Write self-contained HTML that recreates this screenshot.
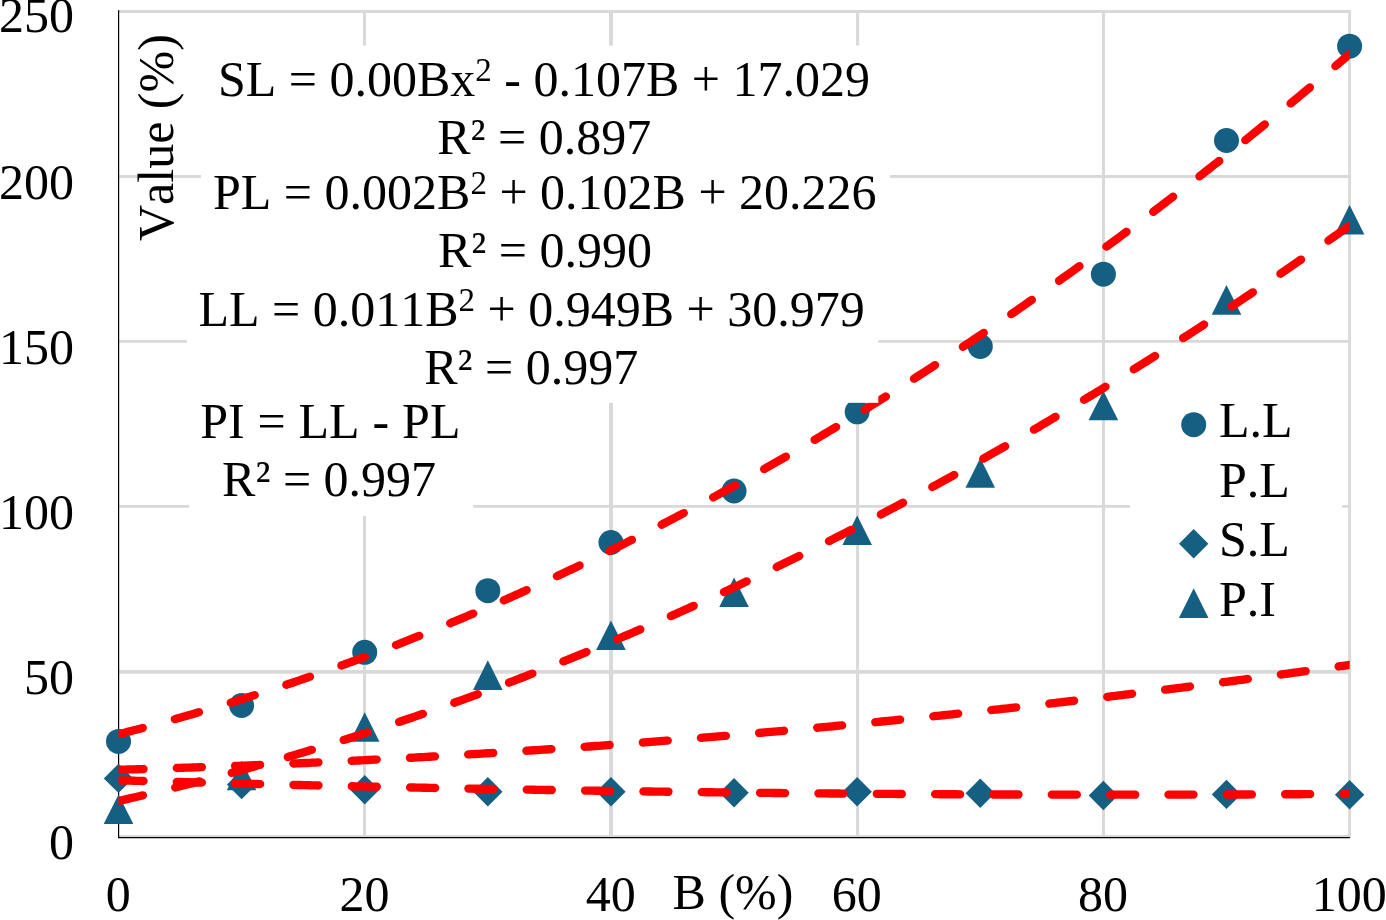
<!DOCTYPE html>
<html lang="en"><head><meta charset="utf-8"><title>Atterberg limits vs B (%)</title>
<style>
html,body{margin:0;padding:0;background:#fff;}
body{width:1386px;height:920px;overflow:hidden;}
svg{display:block;}
text{font-family:"Liberation Serif",serif;font-size:50px;fill:#000;font-kerning:none;}
</style></head><body>
<svg width="1386" height="920" viewBox="0 0 1386 920">
<rect x="0" y="0" width="1386" height="920" fill="#fff"/>
<defs>
<clipPath id="plot"><rect x="118.5" y="0" width="1231.20" height="920"/></clipPath>
</defs>
<g stroke="#d9d9d9" fill="none">
<line x1="118.5" y1="11.55" x2="1350.9" y2="11.55" stroke-width="2.9"/>
<line x1="118.5" y1="176.5" x2="1350.9" y2="176.5" stroke-width="2.96"/>
<line x1="118.5" y1="341.4" x2="1350.9" y2="341.4" stroke-width="2.83"/>
<line x1="118.5" y1="506.4" x2="1350.9" y2="506.4" stroke-width="2.83"/>
<line x1="118.5" y1="671.9" x2="1350.9" y2="671.9" stroke-width="3.83"/>
<line x1="118.5" y1="836.5" x2="1350.9" y2="836.5" stroke-width="2.8"/>
<line x1="364.52" y1="10.1" x2="364.52" y2="837.0" stroke-width="2.96"/>
<line x1="611.0" y1="10.1" x2="611.0" y2="837.0" stroke-width="3.96"/>
<line x1="857.57" y1="10.1" x2="857.57" y2="837.0" stroke-width="2.96"/>
<line x1="1103.5" y1="10.1" x2="1103.5" y2="837.0" stroke-width="3.04"/>
<line x1="1349.6" y1="11.9" x2="1349.6" y2="837.0" stroke-width="2.83"/>
</g>
<g stroke="#000" stroke-width="1.2" fill="none">
<line x1="118.6" y1="10.3" x2="118.6" y2="838.1"/>
<line x1="118.0" y1="837.55" x2="1349.9" y2="837.55"/>
</g>
<g fill="#156082" stroke="none">
<circle cx="118.50" cy="741.46" r="12.5"/>
<circle cx="241.61" cy="705.49" r="12.5"/>
<circle cx="364.72" cy="652.36" r="12.5"/>
<circle cx="487.83" cy="590.65" r="12.5"/>
<circle cx="610.94" cy="542.47" r="12.5"/>
<circle cx="734.05" cy="490.99" r="12.5"/>
<circle cx="857.16" cy="411.79" r="12.5"/>
<circle cx="980.27" cy="346.45" r="12.5"/>
<circle cx="1103.38" cy="274.18" r="12.5"/>
<circle cx="1226.49" cy="140.53" r="12.5"/>
<circle cx="1349.60" cy="46.15" r="12.5"/>
<path d="M103.80 778.40L118.50 763.70L133.20 778.40L118.50 793.10Z"/>
<path d="M226.91 784.60L241.61 769.90L256.31 784.60L241.61 799.30Z"/>
<path d="M350.02 789.70L364.72 775.00L379.42 789.70L364.72 804.40Z"/>
<path d="M473.13 791.70L487.83 777.00L502.53 791.70L487.83 806.40Z"/>
<path d="M596.24 791.70L610.94 777.00L625.64 791.70L610.94 806.40Z"/>
<path d="M719.35 792.70L734.05 778.00L748.75 792.70L734.05 807.40Z"/>
<path d="M842.46 791.70L857.16 777.00L871.86 791.70L857.16 806.40Z"/>
<path d="M965.57 793.30L980.27 778.60L994.97 793.30L980.27 808.00Z"/>
<path d="M1088.68 795.50L1103.38 780.80L1118.08 795.50L1103.38 810.20Z"/>
<path d="M1211.79 794.40L1226.49 779.70L1241.19 794.40L1226.49 809.10Z"/>
<path d="M1334.90 794.70L1349.60 780.00L1364.30 794.70L1349.60 809.40Z"/>
<path d="M103.70 824.07L118.50 794.48L133.30 824.07Z"/>
<path d="M226.81 790.25L241.61 760.65L256.41 790.25Z"/>
<path d="M349.92 741.74L364.72 712.14L379.52 741.74Z"/>
<path d="M473.03 689.93L487.83 660.33L502.63 689.93Z"/>
<path d="M596.14 650.00L610.94 620.40L625.74 650.00Z"/>
<path d="M719.25 607.10L734.05 577.50L748.85 607.10Z"/>
<path d="M842.36 545.06L857.16 515.46L871.96 545.06Z"/>
<path d="M965.47 487.64L980.27 458.04L995.07 487.64Z"/>
<path d="M1088.58 420.32L1103.38 390.72L1118.18 420.32Z"/>
<path d="M1211.69 314.72L1226.49 285.12L1241.29 314.72Z"/>
<path d="M1334.80 234.53L1349.60 204.93L1364.40 234.53Z"/>
</g>
<g clip-path="url(#plot)"><g fill="none" stroke="#ff0000" stroke-width="8.35" stroke-linecap="round" stroke-linejoin="round" stroke-dasharray="25.02 33.32">
<polyline points="118.50,734.27 121.58,733.48 124.66,732.69 127.73,731.90 130.81,731.10 133.89,730.30 136.97,729.49 140.04,728.68 143.12,727.86 146.20,727.04 149.28,726.21 152.36,725.38 155.43,724.54 158.51,723.70 161.59,722.86 164.67,722.01 167.74,721.16 170.82,720.30 173.90,719.43 176.98,718.57 180.06,717.69 183.13,716.82 186.21,715.93 189.29,715.05 192.37,714.16 195.44,713.26 198.52,712.36 201.60,711.46 204.68,710.55 207.75,709.64 210.83,708.72 213.91,707.79 216.99,706.87 220.07,705.93 223.14,705.00 226.22,704.06 229.30,703.11 232.38,702.16 235.45,701.21 238.53,700.25 241.61,699.28 244.69,698.31 247.77,697.34 250.84,696.36 253.92,695.38 257.00,694.39 260.08,693.40 263.15,692.40 266.23,691.40 269.31,690.40 272.39,689.39 275.47,688.37 278.54,687.35 281.62,686.33 284.70,685.30 287.78,684.27 290.85,683.23 293.93,682.19 297.01,681.14 300.09,680.09 303.16,679.04 306.24,677.98 309.32,676.91 312.40,675.84 315.48,674.77 318.55,673.69 321.63,672.60 324.71,671.52 327.79,670.42 330.86,669.33 333.94,668.22 337.02,667.12 340.10,666.01 343.18,664.89 346.25,663.77 349.33,662.65 352.41,661.52 355.49,660.38 358.56,659.24 361.64,658.10 364.72,656.95 367.80,655.80 370.88,654.65 373.95,653.48 377.03,652.32 380.11,651.15 383.19,649.97 386.26,648.79 389.34,647.61 392.42,646.42 395.50,645.23 398.58,644.03 401.65,642.82 404.73,641.62 407.81,640.41 410.89,639.19 413.96,637.97 417.04,636.74 420.12,635.51 423.20,634.28 426.27,633.04 429.35,631.79 432.43,630.55 435.51,629.29 438.59,628.03 441.66,626.77 444.74,625.50 447.82,624.23 450.90,622.96 453.97,621.68 457.05,620.39 460.13,619.10 463.21,617.81 466.29,616.51 469.36,615.20 472.44,613.90 475.52,612.58 478.60,611.27 481.67,609.94 484.75,608.62 487.83,607.29 490.91,605.95 493.99,604.61 497.06,603.26 500.14,601.92 503.22,600.56 506.30,599.20 509.37,597.84 512.45,596.47 515.53,595.10 518.61,593.72 521.69,592.34 524.76,590.95 527.84,589.56 530.92,588.17 534.00,586.77 537.07,585.36 540.15,583.95 543.23,582.54 546.31,581.12 549.38,579.70 552.46,578.27 555.54,576.84 558.62,575.40 561.70,573.96 564.77,572.52 567.85,571.07 570.93,569.61 574.01,568.15 577.08,566.69 580.16,565.22 583.24,563.74 586.32,562.27 589.40,560.78 592.47,559.30 595.55,557.80 598.63,556.31 601.71,554.81 604.78,553.30 607.86,551.79 610.94,550.28 614.02,548.76 617.10,547.23 620.17,545.71 623.25,544.17 626.33,542.63 629.41,541.09 632.48,539.55 635.56,537.99 638.64,536.44 641.72,534.88 644.80,533.31 647.87,531.74 650.95,530.17 654.03,528.59 657.11,527.01 660.18,525.42 663.26,523.83 666.34,522.23 669.42,520.63 672.50,519.02 675.57,517.41 678.65,515.79 681.73,514.17 684.81,512.55 687.88,510.92 690.96,509.29 694.04,507.65 697.12,506.00 700.19,504.36 703.27,502.70 706.35,501.05 709.43,499.38 712.51,497.72 715.58,496.05 718.66,494.37 721.74,492.69 724.82,491.01 727.89,489.32 730.97,487.63 734.05,485.93 737.13,484.23 740.21,482.52 743.28,480.81 746.36,479.09 749.44,477.37 752.52,475.64 755.59,473.91 758.67,472.18 761.75,470.44 764.83,468.69 767.91,466.94 770.98,465.19 774.06,463.43 777.14,461.67 780.22,459.90 783.29,458.13 786.37,456.36 789.45,454.58 792.53,452.79 795.61,451.00 798.68,449.21 801.76,447.41 804.84,445.60 807.92,443.79 810.99,441.98 814.07,440.16 817.15,438.34 820.23,436.52 823.30,434.68 826.38,432.85 829.46,431.01 832.54,429.16 835.62,427.31 838.69,425.46 841.77,423.60 844.85,421.74 847.93,419.87 851.00,418.00 854.08,416.12 857.16,414.24 860.24,412.35 863.32,410.46 866.39,408.57 869.47,406.67 872.55,404.76 875.63,402.85 878.70,400.94 881.78,399.02 884.86,397.10 887.94,395.17 891.02,393.24 894.09,391.30 897.17,389.36 900.25,387.41 903.33,385.46 906.40,383.51 909.48,381.55 912.56,379.58 915.64,377.61 918.72,375.64 921.79,373.66 924.87,371.68 927.95,369.69 931.03,367.70 934.10,365.70 937.18,363.70 940.26,361.70 943.34,359.69 946.41,357.67 949.49,355.65 952.57,353.63 955.65,351.60 958.73,349.57 961.80,347.53 964.88,345.49 967.96,343.44 971.04,341.39 974.11,339.33 977.19,337.27 980.27,335.21 983.35,333.14 986.43,331.06 989.50,328.98 992.58,326.90 995.66,324.81 998.74,322.72 1001.81,320.62 1004.89,318.52 1007.97,316.41 1011.05,314.30 1014.13,312.19 1017.20,310.07 1020.28,307.94 1023.36,305.81 1026.44,303.68 1029.51,301.54 1032.59,299.40 1035.67,297.25 1038.75,295.10 1041.83,292.94 1044.90,290.78 1047.98,288.61 1051.06,286.44 1054.14,284.27 1057.21,282.09 1060.29,279.90 1063.37,277.71 1066.45,275.52 1069.52,273.32 1072.60,271.12 1075.68,268.91 1078.76,266.70 1081.84,264.48 1084.91,262.26 1087.99,260.03 1091.07,257.80 1094.15,255.57 1097.22,253.33 1100.30,251.09 1103.38,248.84 1106.46,246.58 1109.54,244.33 1112.61,242.06 1115.69,239.80 1118.77,237.52 1121.85,235.25 1124.92,232.97 1128.00,230.68 1131.08,228.39 1134.16,226.10 1137.24,223.80 1140.31,221.49 1143.39,219.19 1146.47,216.87 1149.55,214.56 1152.62,212.23 1155.70,209.91 1158.78,207.57 1161.86,205.24 1164.93,202.90 1168.01,200.55 1171.09,198.20 1174.17,195.85 1177.25,193.49 1180.32,191.13 1183.40,188.76 1186.48,186.39 1189.56,184.01 1192.63,181.63 1195.71,179.24 1198.79,176.85 1201.87,174.45 1204.95,172.05 1208.02,169.65 1211.10,167.24 1214.18,164.83 1217.26,162.41 1220.33,159.99 1223.41,157.56 1226.49,155.13 1229.57,152.69 1232.65,150.25 1235.72,147.80 1238.80,145.35 1241.88,142.90 1244.96,140.44 1248.03,137.97 1251.11,135.50 1254.19,133.03 1257.27,130.55 1260.35,128.07 1263.42,125.58 1266.50,123.09 1269.58,120.59 1272.66,118.09 1275.73,115.59 1278.81,113.08 1281.89,110.56 1284.97,108.04 1288.05,105.52 1291.12,102.99 1294.20,100.46 1297.28,97.92 1300.36,95.37 1303.43,92.83 1306.51,90.28 1309.59,87.72 1312.67,85.16 1315.74,82.59 1318.82,80.02 1321.90,77.45 1324.98,74.87 1328.06,72.29 1331.13,69.70 1334.21,67.11 1337.29,64.51 1340.37,61.91 1343.44,59.30 1346.52,56.69 1349.60,54.07"/>
<polyline points="118.50,801.02 121.58,800.31 124.66,799.61 127.73,798.90 130.81,798.19 133.89,797.47 136.97,796.76 140.04,796.03 143.12,795.31 146.20,794.58 149.28,793.84 152.36,793.10 155.43,792.36 158.51,791.62 161.59,790.87 164.67,790.12 167.74,789.36 170.82,788.60 173.90,787.84 176.98,787.07 180.06,786.30 183.13,785.53 186.21,784.75 189.29,783.97 192.37,783.18 195.44,782.39 198.52,781.60 201.60,780.80 204.68,780.00 207.75,779.20 210.83,778.39 213.91,777.58 216.99,776.76 220.07,775.94 223.14,775.12 226.22,774.29 229.30,773.46 232.38,772.63 235.45,771.79 238.53,770.95 241.61,770.11 244.69,769.26 247.77,768.40 250.84,767.55 253.92,766.69 257.00,765.83 260.08,764.96 263.15,764.09 266.23,763.21 269.31,762.34 272.39,761.45 275.47,760.57 278.54,759.68 281.62,758.79 284.70,757.89 287.78,756.99 290.85,756.09 293.93,755.18 297.01,754.27 300.09,753.35 303.16,752.43 306.24,751.51 309.32,750.58 312.40,749.65 315.48,748.72 318.55,747.78 321.63,746.84 324.71,745.90 327.79,744.95 330.86,744.00 333.94,743.04 337.02,742.08 340.10,741.12 343.18,740.15 346.25,739.18 349.33,738.21 352.41,737.23 355.49,736.25 358.56,735.26 361.64,734.27 364.72,733.28 367.80,732.28 370.88,731.28 373.95,730.28 377.03,729.27 380.11,728.26 383.19,727.25 386.26,726.23 389.34,725.20 392.42,724.18 395.50,723.15 398.58,722.11 401.65,721.08 404.73,720.04 407.81,718.99 410.89,717.94 413.96,716.89 417.04,715.84 420.12,714.78 423.20,713.71 426.27,712.65 429.35,711.58 432.43,710.50 435.51,709.42 438.59,708.34 441.66,707.26 444.74,706.17 447.82,705.08 450.90,703.98 453.97,702.88 457.05,701.78 460.13,700.67 463.21,699.56 466.29,698.44 469.36,697.32 472.44,696.20 475.52,695.08 478.60,693.95 481.67,692.81 484.75,691.68 487.83,690.54 490.91,689.39 493.99,688.24 497.06,687.09 500.14,685.94 503.22,684.78 506.30,683.61 509.37,682.45 512.45,681.28 515.53,680.10 518.61,678.93 521.69,677.74 524.76,676.56 527.84,675.37 530.92,674.18 534.00,672.98 537.07,671.78 540.15,670.58 543.23,669.37 546.31,668.16 549.38,666.95 552.46,665.73 555.54,664.51 558.62,663.28 561.70,662.05 564.77,660.82 567.85,659.58 570.93,658.34 574.01,657.10 577.08,655.85 580.16,654.60 583.24,653.34 586.32,652.08 589.40,650.82 592.47,649.55 595.55,648.28 598.63,647.01 601.71,645.73 604.78,644.45 607.86,643.16 610.94,641.88 614.02,640.58 617.10,639.29 620.17,637.99 623.25,636.68 626.33,635.38 629.41,634.07 632.48,632.75 635.56,631.43 638.64,630.11 641.72,628.79 644.80,627.46 647.87,626.12 650.95,624.79 654.03,623.45 657.11,622.10 660.18,620.76 663.26,619.40 666.34,618.05 669.42,616.69 672.50,615.33 675.57,613.96 678.65,612.59 681.73,611.22 684.81,609.84 687.88,608.46 690.96,607.07 694.04,605.69 697.12,604.29 700.19,602.90 703.27,601.50 706.35,600.09 709.43,598.69 712.51,597.28 715.58,595.86 718.66,594.44 721.74,593.02 724.82,591.60 727.89,590.17 730.97,588.74 734.05,587.30 737.13,585.86 740.21,584.41 743.28,582.97 746.36,581.52 749.44,580.06 752.52,578.60 755.59,577.14 758.67,575.67 761.75,574.20 764.83,572.73 767.91,571.25 770.98,569.77 774.06,568.29 777.14,566.80 780.22,565.31 783.29,563.81 786.37,562.31 789.45,560.81 792.53,559.30 795.61,557.79 798.68,556.28 801.76,554.76 804.84,553.24 807.92,551.71 810.99,550.18 814.07,548.65 817.15,547.11 820.23,545.57 823.30,544.03 826.38,542.48 829.46,540.93 832.54,539.38 835.62,537.82 838.69,536.26 841.77,534.69 844.85,533.12 847.93,531.55 851.00,529.97 854.08,528.39 857.16,526.80 860.24,525.22 863.32,523.62 866.39,522.03 869.47,520.43 872.55,518.83 875.63,517.22 878.70,515.61 881.78,514.00 884.86,512.38 887.94,510.76 891.02,509.13 894.09,507.50 897.17,505.87 900.25,504.23 903.33,502.59 906.40,500.95 909.48,499.30 912.56,497.65 915.64,496.00 918.72,494.34 921.79,492.68 924.87,491.01 927.95,489.34 931.03,487.67 934.10,485.99 937.18,484.31 940.26,482.63 943.34,480.94 946.41,479.25 949.49,477.55 952.57,475.85 955.65,474.15 958.73,472.44 961.80,470.73 964.88,469.02 967.96,467.30 971.04,465.58 974.11,463.86 977.19,462.13 980.27,460.39 983.35,458.66 986.43,456.92 989.50,455.17 992.58,453.43 995.66,451.68 998.74,449.92 1001.81,448.16 1004.89,446.40 1007.97,444.64 1011.05,442.87 1014.13,441.09 1017.20,439.32 1020.28,437.54 1023.36,435.75 1026.44,433.96 1029.51,432.17 1032.59,430.38 1035.67,428.58 1038.75,426.78 1041.83,424.97 1044.90,423.16 1047.98,421.35 1051.06,419.53 1054.14,417.71 1057.21,415.88 1060.29,414.05 1063.37,412.22 1066.45,410.39 1069.52,408.55 1072.60,406.70 1075.68,404.86 1078.76,403.01 1081.84,401.15 1084.91,399.29 1087.99,397.43 1091.07,395.57 1094.15,393.70 1097.22,391.82 1100.30,389.95 1103.38,388.07 1106.46,386.18 1109.54,384.29 1112.61,382.40 1115.69,380.51 1118.77,378.61 1121.85,376.71 1124.92,374.80 1128.00,372.89 1131.08,370.98 1134.16,369.06 1137.24,367.14 1140.31,365.21 1143.39,363.29 1146.47,361.35 1149.55,359.42 1152.62,357.48 1155.70,355.54 1158.78,353.59 1161.86,351.64 1164.93,349.68 1168.01,347.73 1171.09,345.76 1174.17,343.80 1177.25,341.83 1180.32,339.86 1183.40,337.88 1186.48,335.90 1189.56,333.92 1192.63,331.93 1195.71,329.94 1198.79,327.94 1201.87,325.94 1204.95,323.94 1208.02,321.94 1211.10,319.93 1214.18,317.91 1217.26,315.90 1220.33,313.87 1223.41,311.85 1226.49,309.82 1229.57,307.79 1232.65,305.75 1235.72,303.71 1238.80,301.67 1241.88,299.63 1244.96,297.57 1248.03,295.52 1251.11,293.46 1254.19,291.40 1257.27,289.34 1260.35,287.27 1263.42,285.19 1266.50,283.12 1269.58,281.04 1272.66,278.95 1275.73,276.87 1278.81,274.78 1281.89,272.68 1284.97,270.58 1288.05,268.48 1291.12,266.37 1294.20,264.27 1297.28,262.15 1300.36,260.03 1303.43,257.91 1306.51,255.79 1309.59,253.66 1312.67,251.53 1315.74,249.39 1318.82,247.26 1321.90,245.11 1324.98,242.97 1328.06,240.82 1331.13,238.66 1334.21,236.50 1337.29,234.34 1340.37,232.18 1343.44,230.01 1346.52,227.84 1349.60,225.66"/>
<polyline points="118.50,769.75 121.58,769.67 124.66,769.58 127.73,769.50 130.81,769.41 133.89,769.32 136.97,769.23 140.04,769.14 143.12,769.05 146.20,768.96 149.28,768.87 152.36,768.77 155.43,768.68 158.51,768.59 161.59,768.49 164.67,768.39 167.74,768.29 170.82,768.20 173.90,768.10 176.98,767.99 180.06,767.89 183.13,767.79 186.21,767.69 189.29,767.58 192.37,767.48 195.44,767.37 198.52,767.27 201.60,767.16 204.68,767.05 207.75,766.94 210.83,766.83 213.91,766.72 216.99,766.61 220.07,766.49 223.14,766.38 226.22,766.26 229.30,766.15 232.38,766.03 235.45,765.91 238.53,765.80 241.61,765.68 244.69,765.56 247.77,765.44 250.84,765.31 253.92,765.19 257.00,765.07 260.08,764.94 263.15,764.82 266.23,764.69 269.31,764.56 272.39,764.43 275.47,764.31 278.54,764.18 281.62,764.04 284.70,763.91 287.78,763.78 290.85,763.65 293.93,763.51 297.01,763.38 300.09,763.24 303.16,763.10 306.24,762.97 309.32,762.83 312.40,762.69 315.48,762.55 318.55,762.40 321.63,762.26 324.71,762.12 327.79,761.97 330.86,761.83 333.94,761.68 337.02,761.54 340.10,761.39 343.18,761.24 346.25,761.09 349.33,760.94 352.41,760.79 355.49,760.64 358.56,760.48 361.64,760.33 364.72,760.17 367.80,760.02 370.88,759.86 373.95,759.70 377.03,759.55 380.11,759.39 383.19,759.23 386.26,759.07 389.34,758.90 392.42,758.74 395.50,758.58 398.58,758.41 401.65,758.25 404.73,758.08 407.81,757.91 410.89,757.74 413.96,757.58 417.04,757.41 420.12,757.23 423.20,757.06 426.27,756.89 429.35,756.72 432.43,756.54 435.51,756.37 438.59,756.19 441.66,756.01 444.74,755.84 447.82,755.66 450.90,755.48 453.97,755.30 457.05,755.11 460.13,754.93 463.21,754.75 466.29,754.56 469.36,754.38 472.44,754.19 475.52,754.01 478.60,753.82 481.67,753.63 484.75,753.44 487.83,753.25 490.91,753.06 493.99,752.87 497.06,752.67 500.14,752.48 503.22,752.28 506.30,752.09 509.37,751.89 512.45,751.69 515.53,751.50 518.61,751.30 521.69,751.10 524.76,750.89 527.84,750.69 530.92,750.49 534.00,750.29 537.07,750.08 540.15,749.88 543.23,749.67 546.31,749.46 549.38,749.25 552.46,749.04 555.54,748.83 558.62,748.62 561.70,748.41 564.77,748.20 567.85,747.99 570.93,747.77 574.01,747.56 577.08,747.34 580.16,747.12 583.24,746.90 586.32,746.68 589.40,746.47 592.47,746.24 595.55,746.02 598.63,745.80 601.71,745.58 604.78,745.35 607.86,745.13 610.94,744.90 614.02,744.67 617.10,744.45 620.17,744.22 623.25,743.99 626.33,743.76 629.41,743.53 632.48,743.29 635.56,743.06 638.64,742.83 641.72,742.59 644.80,742.36 647.87,742.12 650.95,741.88 654.03,741.64 657.11,741.40 660.18,741.16 663.26,740.92 666.34,740.68 669.42,740.44 672.50,740.19 675.57,739.95 678.65,739.70 681.73,739.46 684.81,739.21 687.88,738.96 690.96,738.71 694.04,738.46 697.12,738.21 700.19,737.96 703.27,737.71 706.35,737.45 709.43,737.20 712.51,736.94 715.58,736.69 718.66,736.43 721.74,736.17 724.82,735.91 727.89,735.65 730.97,735.39 734.05,735.13 737.13,734.87 740.21,734.60 743.28,734.34 746.36,734.07 749.44,733.81 752.52,733.54 755.59,733.27 758.67,733.00 761.75,732.73 764.83,732.46 767.91,732.19 770.98,731.92 774.06,731.65 777.14,731.37 780.22,731.10 783.29,730.82 786.37,730.54 789.45,730.27 792.53,729.99 795.61,729.71 798.68,729.43 801.76,729.15 804.84,728.87 807.92,728.58 810.99,728.30 814.07,728.01 817.15,727.73 820.23,727.44 823.30,727.15 826.38,726.87 829.46,726.58 832.54,726.29 835.62,726.00 838.69,725.70 841.77,725.41 844.85,725.12 847.93,724.82 851.00,724.53 854.08,724.23 857.16,723.93 860.24,723.63 863.32,723.34 866.39,723.04 869.47,722.74 872.55,722.43 875.63,722.13 878.70,721.83 881.78,721.52 884.86,721.22 887.94,720.91 891.02,720.60 894.09,720.30 897.17,719.99 900.25,719.68 903.33,719.37 906.40,719.06 909.48,718.74 912.56,718.43 915.64,718.12 918.72,717.80 921.79,717.49 924.87,717.17 927.95,716.85 931.03,716.53 934.10,716.21 937.18,715.89 940.26,715.57 943.34,715.25 946.41,714.93 949.49,714.60 952.57,714.28 955.65,713.95 958.73,713.62 961.80,713.30 964.88,712.97 967.96,712.64 971.04,712.31 974.11,711.98 977.19,711.65 980.27,711.31 983.35,710.98 986.43,710.65 989.50,710.31 992.58,709.97 995.66,709.64 998.74,709.30 1001.81,708.96 1004.89,708.62 1007.97,708.28 1011.05,707.94 1014.13,707.59 1017.20,707.25 1020.28,706.91 1023.36,706.56 1026.44,706.21 1029.51,705.87 1032.59,705.52 1035.67,705.17 1038.75,704.82 1041.83,704.47 1044.90,704.12 1047.98,703.77 1051.06,703.41 1054.14,703.06 1057.21,702.70 1060.29,702.35 1063.37,701.99 1066.45,701.63 1069.52,701.27 1072.60,700.91 1075.68,700.55 1078.76,700.19 1081.84,699.83 1084.91,699.47 1087.99,699.10 1091.07,698.74 1094.15,698.37 1097.22,698.01 1100.30,697.64 1103.38,697.27 1106.46,696.90 1109.54,696.53 1112.61,696.16 1115.69,695.79 1118.77,695.41 1121.85,695.04 1124.92,694.67 1128.00,694.29 1131.08,693.91 1134.16,693.54 1137.24,693.16 1140.31,692.78 1143.39,692.40 1146.47,692.02 1149.55,691.64 1152.62,691.25 1155.70,690.87 1158.78,690.49 1161.86,690.10 1164.93,689.71 1168.01,689.33 1171.09,688.94 1174.17,688.55 1177.25,688.16 1180.32,687.77 1183.40,687.38 1186.48,686.99 1189.56,686.59 1192.63,686.20 1195.71,685.80 1198.79,685.41 1201.87,685.01 1204.95,684.61 1208.02,684.21 1211.10,683.81 1214.18,683.41 1217.26,683.01 1220.33,682.61 1223.41,682.21 1226.49,681.80 1229.57,681.40 1232.65,680.99 1235.72,680.59 1238.80,680.18 1241.88,679.77 1244.96,679.36 1248.03,678.95 1251.11,678.54 1254.19,678.13 1257.27,677.71 1260.35,677.30 1263.42,676.89 1266.50,676.47 1269.58,676.05 1272.66,675.64 1275.73,675.22 1278.81,674.80 1281.89,674.38 1284.97,673.96 1288.05,673.54 1291.12,673.11 1294.20,672.69 1297.28,672.27 1300.36,671.84 1303.43,671.41 1306.51,670.99 1309.59,670.56 1312.67,670.13 1315.74,669.70 1318.82,669.27 1321.90,668.84 1324.98,668.41 1328.06,667.97 1331.13,667.54 1334.21,667.10 1337.29,666.67 1340.37,666.23 1343.44,665.79 1346.52,665.35 1349.60,664.91"/>
<polyline points="118.50,780.30 121.58,780.39 124.66,780.48 127.73,780.57 130.81,780.66 133.89,780.74 136.97,780.83 140.04,780.92 143.12,781.00 146.20,781.09 149.28,781.17 152.36,781.26 155.43,781.34 158.51,781.43 161.59,781.51 164.67,781.60 167.74,781.68 170.82,781.77 173.90,781.85 176.98,781.93 180.06,782.02 183.13,782.10 186.21,782.18 189.29,782.26 192.37,782.34 195.44,782.43 198.52,782.51 201.60,782.59 204.68,782.67 207.75,782.75 210.83,782.83 213.91,782.91 216.99,782.99 220.07,783.07 223.14,783.15 226.22,783.23 229.30,783.31 232.38,783.38 235.45,783.46 238.53,783.54 241.61,783.62 244.69,783.70 247.77,783.77 250.84,783.85 253.92,783.93 257.00,784.00 260.08,784.08 263.15,784.15 266.23,784.23 269.31,784.30 272.39,784.38 275.47,784.45 278.54,784.53 281.62,784.60 284.70,784.68 287.78,784.75 290.85,784.82 293.93,784.90 297.01,784.97 300.09,785.04 303.16,785.11 306.24,785.18 309.32,785.26 312.40,785.33 315.48,785.40 318.55,785.47 321.63,785.54 324.71,785.61 327.79,785.68 330.86,785.75 333.94,785.82 337.02,785.89 340.10,785.96 343.18,786.03 346.25,786.09 349.33,786.16 352.41,786.23 355.49,786.30 358.56,786.37 361.64,786.43 364.72,786.50 367.80,786.57 370.88,786.63 373.95,786.70 377.03,786.76 380.11,786.83 383.19,786.89 386.26,786.96 389.34,787.02 392.42,787.09 395.50,787.15 398.58,787.22 401.65,787.28 404.73,787.34 407.81,787.40 410.89,787.47 413.96,787.53 417.04,787.59 420.12,787.65 423.20,787.72 426.27,787.78 429.35,787.84 432.43,787.90 435.51,787.96 438.59,788.02 441.66,788.08 444.74,788.14 447.82,788.20 450.90,788.26 453.97,788.32 457.05,788.37 460.13,788.43 463.21,788.49 466.29,788.55 469.36,788.61 472.44,788.66 475.52,788.72 478.60,788.78 481.67,788.83 484.75,788.89 487.83,788.95 490.91,789.00 493.99,789.06 497.06,789.11 500.14,789.17 503.22,789.22 506.30,789.28 509.37,789.33 512.45,789.38 515.53,789.44 518.61,789.49 521.69,789.54 524.76,789.60 527.84,789.65 530.92,789.70 534.00,789.75 537.07,789.80 540.15,789.85 543.23,789.91 546.31,789.96 549.38,790.01 552.46,790.06 555.54,790.11 558.62,790.16 561.70,790.21 564.77,790.26 567.85,790.30 570.93,790.35 574.01,790.40 577.08,790.45 580.16,790.50 583.24,790.54 586.32,790.59 589.40,790.64 592.47,790.68 595.55,790.73 598.63,790.78 601.71,790.82 604.78,790.87 607.86,790.91 610.94,790.96 614.02,791.00 617.10,791.05 620.17,791.09 623.25,791.14 626.33,791.18 629.41,791.22 632.48,791.27 635.56,791.31 638.64,791.35 641.72,791.39 644.80,791.44 647.87,791.48 650.95,791.52 654.03,791.56 657.11,791.60 660.18,791.64 663.26,791.68 666.34,791.72 669.42,791.76 672.50,791.80 675.57,791.84 678.65,791.88 681.73,791.92 684.81,791.96 687.88,792.00 690.96,792.04 694.04,792.07 697.12,792.11 700.19,792.15 703.27,792.18 706.35,792.22 709.43,792.26 712.51,792.29 715.58,792.33 718.66,792.37 721.74,792.40 724.82,792.44 727.89,792.47 730.97,792.50 734.05,792.54 737.13,792.57 740.21,792.61 743.28,792.64 746.36,792.67 749.44,792.71 752.52,792.74 755.59,792.77 758.67,792.80 761.75,792.83 764.83,792.87 767.91,792.90 770.98,792.93 774.06,792.96 777.14,792.99 780.22,793.02 783.29,793.05 786.37,793.08 789.45,793.11 792.53,793.14 795.61,793.17 798.68,793.19 801.76,793.22 804.84,793.25 807.92,793.28 810.99,793.31 814.07,793.33 817.15,793.36 820.23,793.39 823.30,793.41 826.38,793.44 829.46,793.47 832.54,793.49 835.62,793.52 838.69,793.54 841.77,793.57 844.85,793.59 847.93,793.61 851.00,793.64 854.08,793.66 857.16,793.69 860.24,793.71 863.32,793.73 866.39,793.75 869.47,793.78 872.55,793.80 875.63,793.82 878.70,793.84 881.78,793.86 884.86,793.88 887.94,793.90 891.02,793.92 894.09,793.94 897.17,793.96 900.25,793.98 903.33,794.00 906.40,794.02 909.48,794.04 912.56,794.06 915.64,794.08 918.72,794.10 921.79,794.11 924.87,794.13 927.95,794.15 931.03,794.16 934.10,794.18 937.18,794.20 940.26,794.21 943.34,794.23 946.41,794.24 949.49,794.26 952.57,794.28 955.65,794.29 958.73,794.30 961.80,794.32 964.88,794.33 967.96,794.35 971.04,794.36 974.11,794.37 977.19,794.39 980.27,794.40 983.35,794.41 986.43,794.42 989.50,794.43 992.58,794.45 995.66,794.46 998.74,794.47 1001.81,794.48 1004.89,794.49 1007.97,794.50 1011.05,794.51 1014.13,794.52 1017.20,794.53 1020.28,794.54 1023.36,794.54 1026.44,794.55 1029.51,794.56 1032.59,794.57 1035.67,794.58 1038.75,794.58 1041.83,794.59 1044.90,794.60 1047.98,794.60 1051.06,794.61 1054.14,794.62 1057.21,794.62 1060.29,794.63 1063.37,794.63 1066.45,794.64 1069.52,794.64 1072.60,794.65 1075.68,794.65 1078.76,794.66 1081.84,794.66 1084.91,794.66 1087.99,794.67 1091.07,794.67 1094.15,794.67 1097.22,794.67 1100.30,794.67 1103.38,794.68 1106.46,794.68 1109.54,794.68 1112.61,794.68 1115.69,794.68 1118.77,794.68 1121.85,794.68 1124.92,794.68 1128.00,794.68 1131.08,794.68 1134.16,794.68 1137.24,794.68 1140.31,794.68 1143.39,794.67 1146.47,794.67 1149.55,794.67 1152.62,794.67 1155.70,794.66 1158.78,794.66 1161.86,794.66 1164.93,794.65 1168.01,794.65 1171.09,794.64 1174.17,794.64 1177.25,794.64 1180.32,794.63 1183.40,794.63 1186.48,794.62 1189.56,794.61 1192.63,794.61 1195.71,794.60 1198.79,794.59 1201.87,794.59 1204.95,794.58 1208.02,794.57 1211.10,794.56 1214.18,794.56 1217.26,794.55 1220.33,794.54 1223.41,794.53 1226.49,794.52 1229.57,794.51 1232.65,794.50 1235.72,794.49 1238.80,794.48 1241.88,794.47 1244.96,794.46 1248.03,794.45 1251.11,794.44 1254.19,794.43 1257.27,794.42 1260.35,794.40 1263.42,794.39 1266.50,794.38 1269.58,794.37 1272.66,794.35 1275.73,794.34 1278.81,794.32 1281.89,794.31 1284.97,794.30 1288.05,794.28 1291.12,794.27 1294.20,794.25 1297.28,794.24 1300.36,794.22 1303.43,794.20 1306.51,794.19 1309.59,794.17 1312.67,794.16 1315.74,794.14 1318.82,794.12 1321.90,794.10 1324.98,794.09 1328.06,794.07 1331.13,794.05 1334.21,794.03 1337.29,794.01 1340.37,793.99 1343.44,793.97 1346.52,793.95 1349.60,793.93"/>
</g></g>
<g fill="#fff" stroke="none">
<rect x="206.5" y="45.6" width="675" height="128"/>
<rect x="201.1" y="158" width="689" height="129"/>
<rect x="187" y="275" width="691.3" height="127.8"/>
<rect x="189.1" y="388" width="284.1" height="128"/>
<rect x="1130" y="380" width="212.2" height="270"/>
</g>
<text x="544.0" y="95.8" text-anchor="middle">SL = 0.00Bx<tspan dy="-14.5" font-size="33px">2</tspan><tspan dy="14.5"> - 0.107B + 17.029</tspan></text>
<text x="544.2" y="153.75" text-anchor="middle">R² = 0.897</text>
<text x="544.8" y="208.7" text-anchor="middle">PL = 0.002B<tspan dy="-14.5" font-size="33px">2</tspan><tspan dy="14.5"> + 0.102B + 20.226</tspan></text>
<text x="545.0" y="267.15" text-anchor="middle">R² = 0.990</text>
<text x="531.6" y="325.9" text-anchor="middle">LL = 0.011B<tspan dy="-14.5" font-size="33px">2</tspan><tspan dy="14.5"> + 0.949B + 30.979</tspan></text>
<text x="531.3" y="383.95" text-anchor="middle">R² = 0.997</text>
<text x="330.3" y="437.9" text-anchor="middle" word-spacing="0.4">PI = LL - PL</text>
<text x="329.1" y="495.7" text-anchor="middle">R² = 0.997</text>
<g fill="#156082" stroke="none">
<circle cx="1193.70" cy="424.70" r="12.5"/>
<path d="M1179.00 543.70L1193.70 529.00L1208.40 543.70L1193.70 558.40Z"/>
<path d="M1178.90 617.90L1193.70 588.30L1208.50 617.90Z"/>
</g>
<text x="1219" y="437.2">L.L</text>
<text x="1219" y="497.0">P.L</text>
<text x="1219" y="555.9">S.L</text>
<text x="1219" y="615.7">P.I</text>
<text x="74.1" y="32.1" text-anchor="end">250</text>
<text x="74.1" y="198.6" text-anchor="end">200</text>
<text x="74.1" y="363.7" text-anchor="end">150</text>
<text x="74.1" y="528.6" text-anchor="end">100</text>
<text x="74.1" y="693.8" text-anchor="end">50</text>
<text x="74.1" y="859" text-anchor="end">0</text>
<text x="118.20" y="911.3" text-anchor="middle">0</text>
<text x="364.42" y="911.3" text-anchor="middle">20</text>
<text x="610.64" y="911.3" text-anchor="middle">40</text>
<text x="856.86" y="911.3" text-anchor="middle">60</text>
<text x="1103.08" y="911.3" text-anchor="middle">80</text>
<text x="1349.30" y="911.3" text-anchor="middle">100</text>
<text x="733" y="909" text-anchor="middle">B (%)</text>
<text transform="translate(172.6 137.6) rotate(-90)" text-anchor="middle">Value (%)</text>
</svg>
</body></html>
